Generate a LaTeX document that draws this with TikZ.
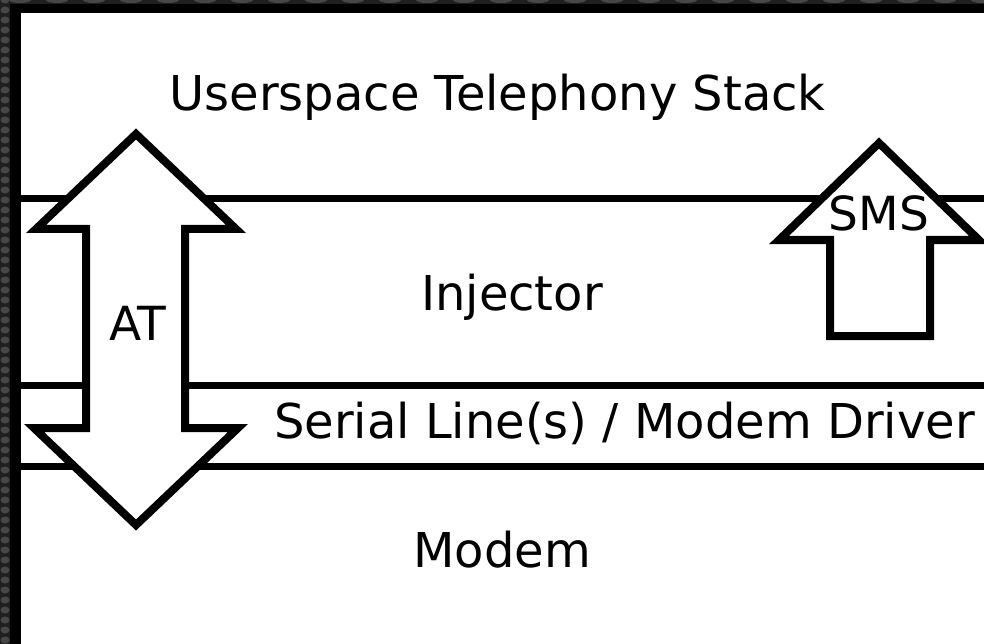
\documentclass[tikz,border=0pt]{standalone}
\usepackage{fontspec}
\setmainfont{DejaVu Sans}
\begin{document}
\begin{tikzpicture}[x=1pt,y=-1pt,
  layerline/.style={line width=7.5pt},
  fatarrow/.style={draw=black,fill=white,line width=8pt,line join=miter,miter limit=10},
  label/.style={font=\fontsize{48}{57}\selectfont,anchor=base,inner sep=0pt},
  smalllabel/.style={font=\fontsize{47}{56}\selectfont,anchor=base,inner sep=0pt}]
\useasboundingbox (0,0) rectangle (984,644);
\clip (0,0) rectangle (984,644);

% textured outer frame
\fill[black!88] (0,0) rectangle (984,644);
\foreach \yy in {0,10,...,650}
  \fill[black!72] (5,\yy) ellipse (4.5 and 3.5);
\foreach \xx in {20,57,...,1000}
  \fill[black!72] (\xx,0) ellipse (11 and 3);

% black border and white canvas
\fill[black] (10,4) rectangle (984,644);
\fill[white] (21,13) rectangle (984,644);

% layer separators
\coordinate (l1a) at (21,198.5);   \coordinate (l1b) at (984,198.5);
\coordinate (l2a) at (21,385.5);   \coordinate (l2b) at (984,385.5);
\coordinate (l3a) at (21,466.5);   \coordinate (l3b) at (984,466.5);
\draw[layerline] (l1a) -- (l1b);
\draw[layerline] (l2a) -- (l2b);
\draw[layerline] (l3a) -- (l3b);

% AT double arrow
\draw[fatarrow] (136,134) -- (236,229) -- (185,229) -- (185,428) -- (238,428)
  -- (136,525) -- (34,428) -- (86,428) -- (86,229) -- (36,229) -- cycle;

% SMS up arrow
\draw[fatarrow] (879,143) -- (979,240) -- (930,240) -- (930,336) -- (830,336)
  -- (830,240) -- (779,240) -- cycle;

% layer names
\node[label] (userspace) at (497.5,111) {Userspace Telephony Stack};
\node[label] (injector) at (512,310) {Injector};
\node[label] (serial) at (624.5,438) {Serial Line(s) / Modem Driver};
\node[label] (modem) at (502,567) {Modem};
\node[smalllabel] (at) at (138,340) {AT};
\node[smalllabel] (sms) at (879,230) {SMS};
\end{tikzpicture}
\end{document}
